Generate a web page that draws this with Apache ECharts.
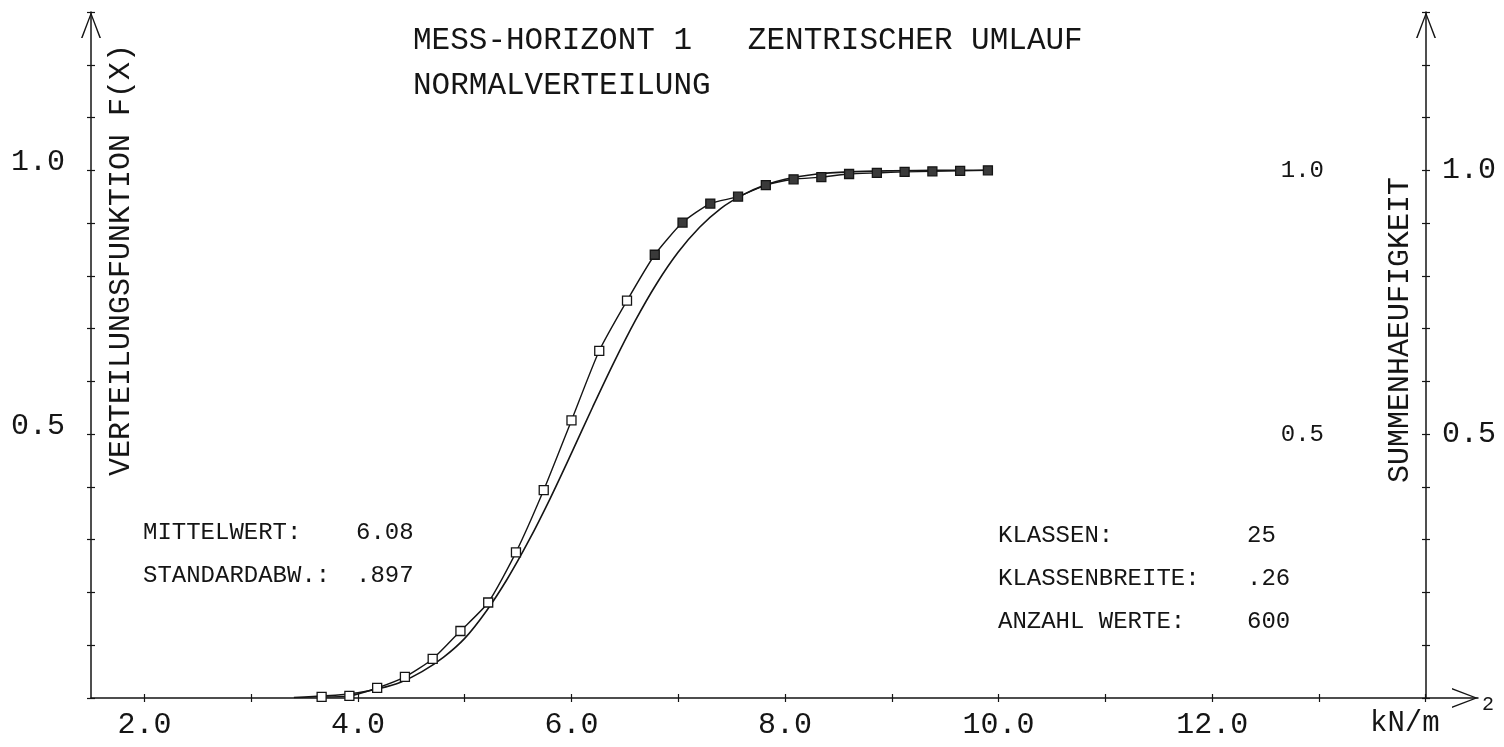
<!DOCTYPE html>
<html><head><meta charset="utf-8">
<script src="https://cdn.jsdelivr.net/npm/echarts@6/dist/echarts.min.js"></script>
<style>html,body{margin:0;padding:0;background:#fff}#c{width:1504px;height:747px}</style>
</head><body><div id="c"></div>
<script>
// ---- data ----
const normalX = [3.40, 3.70, 4.00, 4.20, 4.40, 4.60, 4.80, 5.00, 5.20, 5.40, 5.60, 5.80, 6.00, 6.20, 6.40, 6.60, 6.80, 7.00, 7.20, 7.40, 7.60, 7.80, 8.00, 8.30, 8.60, 9.00, 9.40, 9.90];
const normalY = [0.001, 0.004, 0.010, 0.018, 0.030, 0.050, 0.077, 0.113, 0.164, 0.226, 0.298, 0.378, 0.464, 0.552, 0.637, 0.716, 0.786, 0.845, 0.892, 0.928, 0.953, 0.971, 0.983, 0.993, 0.997, 0.999, 1.000, 1.000];
const classX = [3.66, 3.92, 4.18, 4.44, 4.70, 4.96, 5.22, 5.48, 5.74, 6.00, 6.26, 6.52, 6.78, 7.04, 7.30, 7.56, 7.82, 8.08, 8.34, 8.60, 8.86, 9.12, 9.38, 9.64, 9.90];
const classY = [0.002, 0.004, 0.019, 0.040, 0.074, 0.127, 0.181, 0.276, 0.394, 0.526, 0.658, 0.753, 0.840, 0.901, 0.937, 0.950, 0.972, 0.983, 0.987, 0.993, 0.995, 0.997, 0.998, 0.999, 1.000];
const xTicks = [2, 3, 4, 5, 6, 7, 8, 9, 10, 11, 12, 13, 14];
const xTickLabels = [2, 4, 6, 8, 10, 12];
const yTickLabels = [0.5, 1.0];
const titleLine1 = 'MESS-HORIZONT 1   ZENTRISCHER UMLAUF';
const titleLine2 = 'NORMALVERTEILUNG';
const leftAxisName = 'VERTEILUNGSFUNKTION F(X)';
const rightAxisName = 'SUMMENHAEUFIGKEIT';
const statNamesLeft = ['MITTELWERT:', 'STANDARDABW.:'];
const statValuesLeft = ['6.08', '.897'];
const statNamesRight = ['KLASSEN:', 'KLASSENBREITE:', 'ANZAHL WERTE:'];
const statValuesRight = ['25', '.26', '600'];
const unitText = 'kN/m';
const unitSup = '2';

// ---- styling ----
const FONT = '"Liberation Mono", "DejaVu Sans Mono", monospace';
const INK = '#151515';
const arrowPath = 'path://M0,26L10,0L20,26L18.4,26L10,3.4L1.6,26Z';
const X_MIN = 1.5, X_MAX = 14.49, Y_MAX = 1.3;

const chart = echarts.init(document.getElementById('c'), null, {renderer: 'canvas'});

function txt(text, x, y, size, opts) {
  return Object.assign({
    type: 'text', x: x, y: y, silent: true,
    style: {text: text, font: size + 'px ' + FONT, fill: INK, align: 'left', verticalAlign: 'middle',
            textAlign: 'left', textVerticalAlign: 'middle'}
  }, opts || {});
}

const graphics = [];
graphics.push(txt(titleLine1, 413, 41, 31));
graphics.push(txt(titleLine2, 413, 86, 31));
statNamesLeft.forEach((s, i) => {
  graphics.push(txt(s, 143, 533 + i * 43, 24));
  graphics.push(txt(statValuesLeft[i], 356, 533 + i * 43, 24));
});
statNamesRight.forEach((s, i) => {
  graphics.push(txt(s, 998, 536 + i * 43, 24));
  graphics.push(txt(statValuesRight[i], 1247, 536 + i * 43, 24));
});
graphics.push({type: 'text', x: 121, y: 260, rotation: Math.PI / 2, silent: true,
  style: {text: leftAxisName, font: '30px ' + FONT, fill: INK, align: 'center', verticalAlign: 'middle',
          textAlign: 'center', textVerticalAlign: 'middle'}});
graphics.push({type: 'text', x: 1400, y: 330, rotation: Math.PI / 2, silent: true,
  style: {text: rightAxisName, font: '30px ' + FONT, fill: INK, align: 'center', verticalAlign: 'middle',
          textAlign: 'center', textVerticalAlign: 'middle'}});
graphics.push(txt(unitText, 1370, 723, 29));
graphics.push(txt(unitSup, 1482, 705, 20));

const option = {
  backgroundColor: '#ffffff',
  animation: false,
  grid: {left: 91, right: 26, top: 12, bottom: 49, containLabel: false},
  xAxis: [
    {
      type: 'value', min: X_MIN, max: X_MAX, position: 'bottom',
      splitLine: {show: false},
      axisLine: {show: true, onZero: false, symbol: ['none', arrowPath], symbolSize: [20, 26], symbolOffset: [0, -13],
                 lineStyle: {color: INK, width: 1.5}},
      axisTick: {show: true, length: 4, customValues: xTicks, lineStyle: {color: INK, width: 1.2}},
      axisLabel: {show: true, customValues: xTickLabels, margin: 12, fontFamily: FONT, fontSize: 30, color: INK,
                  formatter: v => Number(v).toFixed(1)}
    },
    {
      type: 'value', min: X_MIN, max: X_MAX, position: 'bottom',
      splitLine: {show: false}, axisLine: {show: false},
      axisTick: {show: true, inside: true, length: 4, customValues: xTicks, lineStyle: {color: INK, width: 1.2}},
      axisLabel: {show: false}
    }
  ],
  yAxis: [
    {
      type: 'value', min: 0, max: Y_MAX, interval: 0.1, position: 'left',
      splitLine: {show: false},
      axisLine: {show: true, onZero: false, symbol: ['none', arrowPath], symbolSize: [20, 26], symbolOffset: [0, -13],
                 lineStyle: {color: INK, width: 1.5}},
      axisTick: {show: true, length: 4, lineStyle: {color: INK, width: 1.2}},
      axisLabel: {show: true, customValues: yTickLabels, margin: 26, fontFamily: FONT, fontSize: 30, color: INK,
                  verticalAlign: 'bottom', lineHeight: 16, formatter: v => Number(v).toFixed(1)}
    },
    {
      type: 'value', min: 0, max: Y_MAX, interval: 0.1, position: 'right', offset: -52,
      splitLine: {show: false},
      axisLine: {show: true, onZero: false, symbol: ['none', arrowPath], symbolSize: [20, 26], symbolOffset: [0, -13],
                 lineStyle: {color: INK, width: 1.5}},
      axisTick: {show: true, length: 4, lineStyle: {color: INK, width: 1.2}},
      axisLabel: {show: true, customValues: yTickLabels, margin: 16, fontFamily: FONT, fontSize: 30, color: INK,
                  formatter: v => Number(v).toFixed(1)}
    },
    {
      type: 'value', min: 0, max: Y_MAX, interval: 0.1, position: 'right', offset: -52,
      splitLine: {show: false}, axisLine: {show: false}, axisTick: {show: false},
      axisLabel: {show: true, inside: true, customValues: yTickLabels, margin: 102, fontFamily: FONT, fontSize: 24, color: INK,
                  formatter: v => Number(v).toFixed(1)}
    },
    {
      type: 'value', min: 0, max: Y_MAX, interval: 0.1, position: 'left',
      splitLine: {show: false}, axisLine: {show: false},
      axisTick: {show: true, inside: true, length: 4, lineStyle: {color: INK, width: 1.2}},
      axisLabel: {show: false}
    },
    {
      type: 'value', min: 0, max: Y_MAX, interval: 0.1, position: 'right', offset: -52,
      splitLine: {show: false}, axisLine: {show: false},
      axisTick: {show: true, inside: true, length: 4, lineStyle: {color: INK, width: 1.2}},
      axisLabel: {show: false}
    }
  ],
  series: [
    {
      name: 'Normalverteilung', type: 'line', xAxisIndex: 0, yAxisIndex: 0,
      data: normalX.map((x, i) => [x, normalY[i]]),
      smooth: 0.3, showSymbol: false, symbol: 'none',
      lineStyle: {color: INK, width: 1.6}, z: 3
    },
    {
      name: 'Summenhaeufigkeit', type: 'line', xAxisIndex: 0, yAxisIndex: 0,
      data: classX.map((x, i) => ({
        value: [x, classY[i]],
        itemStyle: i >= 12 ? {color: '#3a3a3a', borderColor: INK} : undefined
      })),
      smooth: 0.2, symbol: 'rect', symbolSize: 9, showSymbol: true,
      lineStyle: {color: INK, width: 1.4},
      itemStyle: {color: '#ffffff', borderColor: INK, borderWidth: 1.3}, z: 4
    }
  ],
  graphic: graphics
};
chart.setOption(option);
</script>
</body></html>
